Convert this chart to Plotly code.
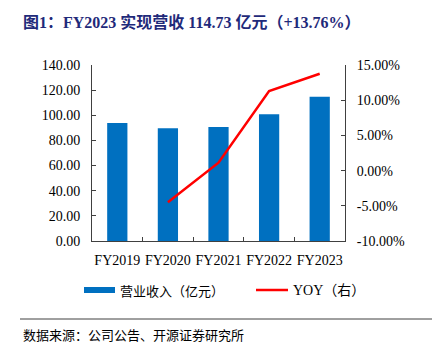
import plotly.graph_objects as go

# Revenue (100 million yuan) and year-over-year growth (%)
years = ["FY2019", "FY2020", "FY2021", "FY2022", "FY2023"]
revenue = [93.8, 89.6, 90.6, 100.85, 114.73]
yoy = [None, -4.48, 1.12, 11.31, 13.76]

left_ticks = [0, 20, 40, 60, 80, 100, 120, 140]
right_ticks = [-10, -5, 0, 5, 10, 15]

BAR_COLOR = "#0070C0"
LINE_COLOR = "#FF0000"
AXIS_COLOR = "#404040"
SERIF = "Liberation Serif"
CJK = "Noto Sans CJK SC"

fig = go.Figure()
fig.add_trace(go.Bar(
    x=years, y=revenue, name="营业收入（亿元）",
    marker=dict(color=BAR_COLOR, line=dict(width=0)),
    width=0.4, yaxis="y", showlegend=False,
))
fig.add_trace(go.Scatter(
    x=years, y=yoy, name="YOY（右）", mode="lines",
    line=dict(color=LINE_COLOR, width=2.5), yaxis="y2",
    showlegend=False, connectgaps=False,
))

axis_font = dict(family=SERIF, size=14, color="#000000")

fig.update_layout(
    width=442, height=349,
    margin=dict(l=92, r=97, t=65, b=108),
    paper_bgcolor="white", plot_bgcolor="white",
    xaxis=dict(
        type="category", showgrid=False, showline=True, linecolor=AXIS_COLOR,
        linewidth=1, ticks="inside", ticklen=4, tickcolor=AXIS_COLOR,
        tickson="boundaries", tickfont=axis_font, tickangle=0,
        ticklabelstandoff=6, zeroline=False,
    ),
    yaxis=dict(
        range=[0, 140], tickvals=left_ticks,
        ticktext=[f"{v:.2f}" for v in left_ticks],
        showgrid=False, showline=True, linecolor=AXIS_COLOR, linewidth=1,
        ticks="inside", ticklen=4, tickcolor=AXIS_COLOR, tickfont=axis_font,
        ticklabelstandoff=8, zeroline=False,
    ),
    yaxis2=dict(
        range=[-10, 15], tickvals=right_ticks,
        ticktext=[f"{v:.2f}%" for v in right_ticks],
        overlaying="y", side="right", showgrid=False, showline=True,
        linecolor=AXIS_COLOR, linewidth=1, ticks="inside", ticklen=4,
        tickcolor=AXIS_COLOR, tickfont=axis_font, ticklabelstandoff=8,
        zeroline=False,
    ),
)

# Pixel positions converted to paper coordinates of the plot area
W, H = 442 - 92 - 97, 349 - 65 - 108


def pxa(xp):
    return (xp - 92) / W


def pya(yp):
    return (349 - 108 - yp) / H


# Title
fig.add_annotation(
    x=pxa(21), y=pya(22), xref="paper", yref="paper",
    xanchor="left", yanchor="middle", showarrow=False,
    text="<b>图1：FY2023 实现营收 114.73 亿元（+13.76%）</b>",
    font=dict(family=f"{SERIF}, {CJK}", size=16, color="#1F2A7A"),
)

# Legend
fig.add_shape(type="rect", xref="paper", yref="paper",
              x0=pxa(84), x1=pxa(115), y0=pya(293), y1=pya(287),
              fillcolor=BAR_COLOR, line=dict(width=0))
fig.add_annotation(x=pxa(118), y=pya(290), xref="paper", yref="paper",
                   xanchor="left", yanchor="middle", showarrow=False,
                   text="营业收入（亿元）",
                   font=dict(family=CJK, size=13, color="#000000"))
fig.add_shape(type="line", xref="paper", yref="paper",
              x0=pxa(256), x1=pxa(288), y0=pya(290), y1=pya(290),
              line=dict(color=LINE_COLOR, width=2.5))
fig.add_annotation(x=pxa(291), y=pya(290), xref="paper", yref="paper",
                   xanchor="left", yanchor="middle", showarrow=False,
                   text="YOY（右）",
                   font=dict(family=f"{SERIF}, {CJK}", size=14, color="#000000"))

# Separator and source note
fig.add_shape(type="line", xref="paper", yref="paper",
              x0=pxa(20), x1=pxa(432), y0=pya(319), y1=pya(319),
              line=dict(color="#404040", width=1))
fig.add_annotation(x=pxa(21), y=pya(334), xref="paper", yref="paper",
                   xanchor="left", yanchor="middle", showarrow=False,
                   text="数据来源：公司公告、开源证券研究所",
                   font=dict(family=CJK, size=13, color="#000000"))

fig.write_html("out.html")
